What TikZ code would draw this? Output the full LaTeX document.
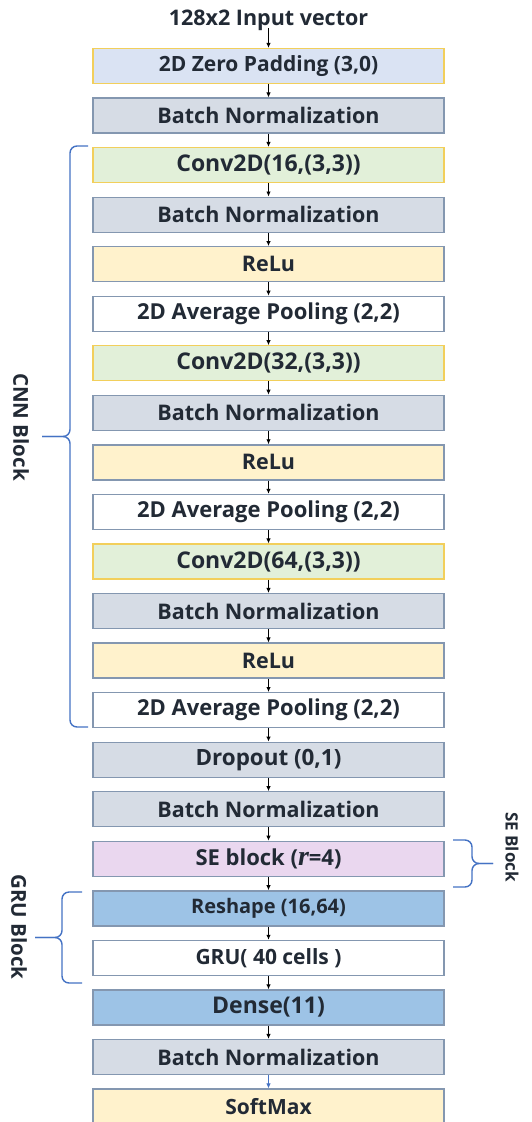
\documentclass[tikz,border=0pt]{standalone}
\usepackage{fontspec}
\setmainfont{Open Sans}
\newfontfamily\varfont{Liberation Serif}
\usetikzlibrary{arrows.meta}

\definecolor{txt}{HTML}{222A35}
\definecolor{frame}{HTML}{8497B0}
\definecolor{gold}{HTML}{F2CF5B}
\definecolor{padfill}{HTML}{DAE3F3}
\definecolor{bnfill}{HTML}{D6DCE5}
\definecolor{convfill}{HTML}{E2F0D9}
\definecolor{relufill}{HTML}{FFF2CC}
\definecolor{sefill}{HTML}{EAD7EF}
\definecolor{densefill}{HTML}{9DC3E6}
\definecolor{bracecol}{HTML}{4472C4}

\newcommand{\fsz}[1]{\bfseries\fontsize{#1}{#1}\selectfont}

\tikzset{
  layer/.style={draw=frame, line width=1.3pt, minimum width=351pt,
    minimum height=35pt, inner sep=0pt, text=txt, font=\fsz{21.5}},
  padbox/.style={layer, draw=gold, fill=padfill, font=\fsz{21}},
  bnbox/.style={layer, fill=bnfill},
  convbox/.style={layer, draw=gold, fill=convfill, font=\fsz{23}},
  relubox/.style={layer, fill=relufill},
  poolbox/.style={layer, fill=white, font=\fsz{22}},
  sebox/.style={layer, fill=sefill, font=\fsz{22}},
  densebox/.style={layer, fill=densefill},
  arr/.style={line width=0.9pt, -{Latex[length=5pt,width=4.5pt]}},
  bracket/.style={draw=bracecol, line width=1.4pt, rounded corners=7pt},
  blocklabel/.style={rotate=-90, text=txt, font=\fsz{20.5}},
}

\begin{document}
\begin{tikzpicture}[x=1pt,y=-1pt]
\useasboundingbox (0,0) rectangle (532,1122);
\fill[white] (0,0) rectangle (532,1122);

\node[text=txt, font=\fsz{21.5}] (in) at (268.5,20) {128x2 Input vector};

\node[padbox]   (b1)  at (268.5,66)      {2D Zero Padding (3,0)};
\node[bnbox]    (b2)  at (268.5,115.55)  {Batch Normalization};
\node[convbox]  (b3)  at (268.5,165.1)   {Conv2D(16,(3,3))};
\node[bnbox]    (b4)  at (268.5,214.65)  {Batch Normalization};
\node[relubox]  (b5)  at (268.5,264.2)   {ReLu};
\node[poolbox]  (b6)  at (268.5,313.75)  {2D Average Pooling (2,2)};
\node[convbox]  (b7)  at (268.5,363.3)   {Conv2D(32,(3,3))};
\node[bnbox]    (b8)  at (268.5,412.85)  {Batch Normalization};
\node[relubox]  (b9)  at (268.5,462.4)   {ReLu};
\node[poolbox]  (b10) at (268.5,511.95)  {2D Average Pooling (2,2)};
\node[convbox]  (b11) at (268.5,561.5)   {Conv2D(64,(3,3))};
\node[bnbox]    (b12) at (268.5,611.05)  {Batch Normalization};
\node[relubox]  (b13) at (268.5,660.6)   {ReLu};
\node[poolbox]  (b14) at (268.5,710.15)  {2D Average Pooling (2,2)};
\node[bnbox, font=\fsz{22.4}] (b15) at (268.5,759.7) {Dropout (0,1)};
\node[bnbox]    (b16) at (268.5,809.25)  {Batch Normalization};
\node[sebox]    (b17) at (268.5,858.8)   {SE block ({\varfont\bfseries\itshape\fontsize{28}{28}\selectfont r}=4)};
\node[densebox, font=\fsz{20}] (b18) at (268.5,908.35) {Reshape (16,64)};
\node[poolbox, font=\fsz{21}]  (b19) at (268.5,957.9)  {GRU( 40 cells )};
\node[densebox, font=\fsz{23}] (b20) at (268.5,1007.45) {Dense(11)};
\node[bnbox]    (b21) at (268.5,1057)    {Batch Normalization};
\node[relubox, font=\fsz{21}] (b22) at (268.5,1106.55) {SoftMax};

% connectors
\draw[arr] ([yshift=-8pt]in.center) -- (b1.north);
\foreach \i [evaluate=\i as \j using int(\i+1)] in {1,...,20}
  \draw[arr] (b\i.south) -- (b\j.north);
\draw[arr, bracecol] (b21.south) -- (b22.north);

% CNN block bracket
\coordinate (cnnTop) at (88,146);
\coordinate (cnnBot) at (88,727);
\coordinate (cnnTip) at (42,436.5);
\draw[bracket] (cnnTop) -- (70,146) -- (70,436.5) -- (cnnTip);
\draw[bracket] (cnnTip) -- (70,436.5) -- (70,727) -- (cnnBot);
\node[blocklabel] (cnnlab) at (21,427) {CNN Block};

% SE block bracket
\coordinate (seTop) at (453,840);
\coordinate (seBot) at (453,887);
\coordinate (seTip) at (493,863.5);
\draw[bracket] (seTop) -- (472,840) -- (472,863.5) -- (seTip);
\draw[bracket] (seTip) -- (472,863.5) -- (472,887) -- (seBot);
\node[blocklabel, font=\fsz{17}] (selab) at (512,847) {SE Block};

% GRU block bracket
\coordinate (gruTop) at (82,892);
\coordinate (gruBot) at (82,983);
\coordinate (gruTip) at (35,937.5);
\draw[bracket] (gruTop) -- (62,892) -- (62,937.5) -- (gruTip);
\draw[bracket] (gruTip) -- (62,937.5) -- (62,983) -- (gruBot);
\node[blocklabel] (grulab) at (19,927) {GRU Block};
\end{tikzpicture}
\end{document}
